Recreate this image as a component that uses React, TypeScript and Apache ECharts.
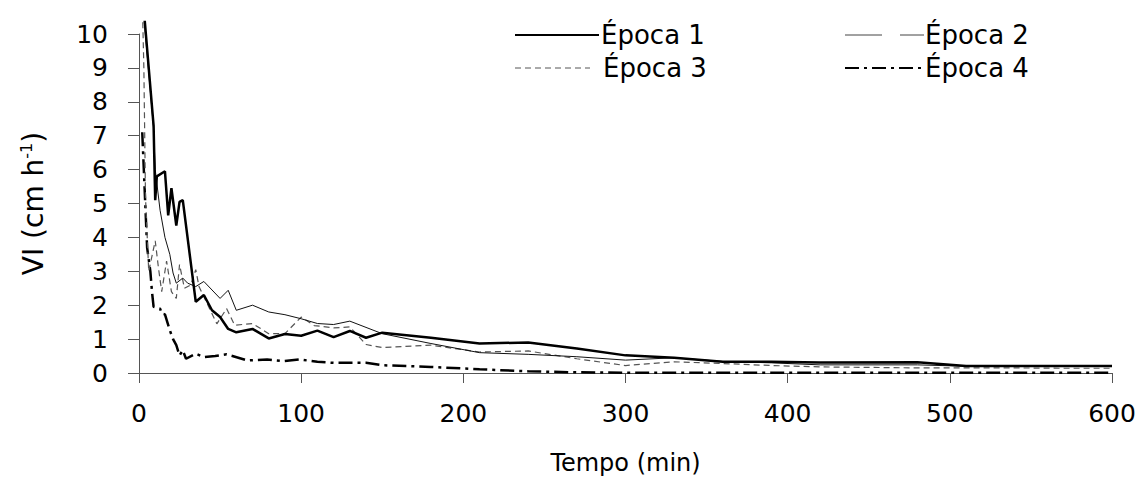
import React, { useEffect, useRef } from "react";
import * as echarts from "echarts";

// Infiltration rate (cm h-1) versus time (min) for four sampling periods
const epoca1: [number, number][] = [
  [1, 14], [3, 10.7], [9, 7.3], [10, 5.1], [11, 5.8], [16, 5.95], [18, 4.65], [20, 5.45],
  [23, 4.35], [25, 5.05], [27, 5.1], [35, 2.1], [40, 2.3], [45, 1.85], [50, 1.65], [55, 1.3],
  [60, 1.2], [70, 1.3], [80, 1.02], [90, 1.15], [100, 1.1], [110, 1.25], [120, 1.06], [130, 1.24],
  [140, 1.04], [150, 1.19], [180, 1.04], [210, 0.87], [240, 0.9], [270, 0.72], [300, 0.52],
  [330, 0.45], [360, 0.33], [390, 0.33], [420, 0.31], [480, 0.32], [510, 0.21], [540, 0.21],
  [570, 0.21], [600, 0.21],
];

const epoca2: [number, number][] = [
  [1, 13], [3, 10.5], [9, 7.2], [10, 6.0], [13, 4.8], [16, 4.0], [19, 3.5], [21, 2.95],
  [23, 2.65], [27, 2.8], [30, 2.65], [35, 2.55], [40, 2.7], [50, 2.2], [55, 2.44], [60, 1.85],
  [70, 2.0], [80, 1.8], [90, 1.72], [100, 1.6], [110, 1.46], [120, 1.43], [130, 1.53],
  [150, 1.16], [180, 0.87], [210, 0.6], [240, 0.55], [270, 0.48], [300, 0.38], [330, 0.45],
  [360, 0.34], [390, 0.3], [420, 0.24], [480, 0.24], [510, 0.2], [540, 0.2], [570, 0.2],
  [600, 0.2],
];

const epoca3: [number, number][] = [
  [1, 13], [3, 9.0], [4, 5.2], [6, 3.0], [10, 3.9], [12, 3.1], [14, 2.4], [17, 3.3],
  [20, 2.4], [23, 2.2], [25, 3.2], [28, 2.5], [32, 2.6], [35, 3.05], [37, 2.55], [48, 1.45],
  [54, 1.9], [59, 1.41], [70, 1.46], [80, 1.16], [90, 1.16], [100, 1.65], [108, 1.4],
  [120, 1.33], [130, 1.36], [140, 0.84], [150, 0.75], [180, 0.82], [210, 0.62], [240, 0.65],
  [270, 0.42], [300, 0.22], [330, 0.33], [360, 0.28], [390, 0.22], [420, 0.18], [480, 0.15],
  [510, 0.15], [540, 0.15], [570, 0.14], [600, 0.14],
];

const epoca4: [number, number][] = [
  [2, 7.1], [5, 3.7], [7, 3.0], [8, 2.4], [9, 1.95], [13, 1.9], [14, 1.75], [16, 1.73],
  [19, 1.26], [21, 1.0], [23, 0.82], [25, 0.52], [27, 0.67], [29, 0.42], [35, 0.57],
  [40, 0.47], [47, 0.5], [54, 0.55], [67, 0.37], [79, 0.4], [89, 0.35], [99, 0.4],
  [110, 0.33], [120, 0.3], [140, 0.3], [150, 0.23], [180, 0.18], [210, 0.11], [240, 0.05],
  [270, 0.02], [300, 0.01], [360, 0.01], [420, 0.01], [480, 0.01], [540, 0.01], [600, 0.01],
];

const seriesNames = ["Época 1", "Época 2", "Época 3", "Época 4"];
const xTitle = "Tempo (min)";

const FONT = "'DejaVu Sans', 'Liberation Sans', Arial, sans-serif";

// Plot box (px) and a small headroom above the 10 tick where steep curves stay visible
const PLOT = { left: 139, right: 30, top: 34, bottom: 122 };
const HEADROOM = 12;
const Y_MAX = 10;

export default function App() {
  const ref = useRef<HTMLDivElement>(null);

  useEffect(() => {
    if (!ref.current) return;
    const chart = echarts.init(ref.current, undefined, { renderer: "svg" });

    const plotHeight = 495 - PLOT.top - PLOT.bottom;
    const seriesYMax = (Y_MAX * (plotHeight + HEADROOM)) / plotHeight;

    const legendText = (x: number, y: number, text: string) => ({
      type: "text",
      x,
      y,
      style: {
        text,
        fill: "#000",
        font: `26px ${FONT}`,
        verticalAlign: "middle",
      },
    });

    const lineSeries = (name: string, data: [number, number][], lineStyle: object, z: number) => ({
      name,
      type: "line",
      data,
      xAxisIndex: 1,
      yAxisIndex: 1,
      showSymbol: false,
      lineStyle,
      z,
    });

    chart.setOption({
      animation: false,
      backgroundColor: "#fff",
      grid: [
        { ...PLOT, containLabel: false },
        { ...PLOT, top: PLOT.top - HEADROOM, containLabel: false },
      ],
      xAxis: [
        {
          type: "value",
          gridIndex: 0,
          min: 0,
          max: 600,
          interval: 100,
          name: xTitle,
          nameLocation: "middle",
          nameGap: 78,
          nameTextStyle: { fontFamily: FONT, fontSize: 24, color: "#000" },
          axisLine: { lineStyle: { color: "#555", width: 1 } },
          axisTick: { show: true, length: 10, lineStyle: { color: "#555" } },
          axisLabel: { fontFamily: FONT, fontSize: 25, color: "#000", margin: 28 },
          splitLine: { show: false },
        },
        { type: "value", gridIndex: 1, min: 0, max: 600, show: false, splitLine: { show: false } },
      ],
      yAxis: [
        {
          type: "value",
          gridIndex: 0,
          min: 0,
          max: Y_MAX,
          interval: 1,
          name: "{a|VI (cm h}{b|-1}{a|)}",
          nameLocation: "middle",
          nameRotate: 90,
          nameGap: 91,
          nameTextStyle: {
            rich: {
              a: { fontFamily: FONT, fontSize: 28, color: "#000", lineHeight: 30 },
              b: { fontFamily: FONT, fontSize: 16, color: "#000", verticalAlign: "top", lineHeight: 30 },
            },
          },
          axisLine: { show: true, lineStyle: { color: "#555", width: 1 } },
          axisTick: { show: true, length: 11, lineStyle: { color: "#555" } },
          axisLabel: { fontFamily: FONT, fontSize: 25, color: "#000", margin: 31 },
          splitLine: { show: false },
        },
        { type: "value", gridIndex: 1, min: 0, max: seriesYMax, show: false, splitLine: { show: false } },
      ],
      series: [
        lineSeries(seriesNames[0], epoca1, { color: "#000", width: 2.5, type: "solid" }, 4),
        lineSeries(seriesNames[1], epoca2, { color: "#111", width: 1, type: "solid" }, 3),
        lineSeries(seriesNames[2], epoca3, { color: "#555", width: 1.2, type: [6, 4] }, 2),
        lineSeries(seriesNames[3], epoca4, { color: "#000", width: 2.5, type: [14, 5, 3, 5] }, 1),
      ],
      graphic: [
        { type: "line", shape: { x1: 515, y1: 35, x2: 599, y2: 35 }, style: { stroke: "#000", lineWidth: 2 } },
        legendText(601, 35, seriesNames[0]),
        { type: "line", shape: { x1: 845, y1: 35, x2: 882, y2: 35 }, style: { stroke: "#444", lineWidth: 1 } },
        { type: "line", shape: { x1: 900, y1: 35, x2: 924, y2: 35 }, style: { stroke: "#444", lineWidth: 1 } },
        legendText(925, 35, seriesNames[1]),
        {
          type: "line",
          shape: { x1: 515, y1: 68, x2: 590, y2: 68 },
          style: { stroke: "#555", lineWidth: 1, lineDash: [6, 4] },
        },
        legendText(603, 68, seriesNames[2]),
        {
          type: "line",
          shape: { x1: 845, y1: 68, x2: 924, y2: 68 },
          style: { stroke: "#000", lineWidth: 2, lineDash: [14, 5, 3, 5] },
        },
        legendText(925, 68, seriesNames[3]),
      ],
    });

    return () => chart.dispose();
  }, []);

  return (
    <div
      ref={ref}
      style={{ position: "fixed", left: 0, top: 0, width: 1142, height: 495, background: "#fff" }}
    />
  );
}
